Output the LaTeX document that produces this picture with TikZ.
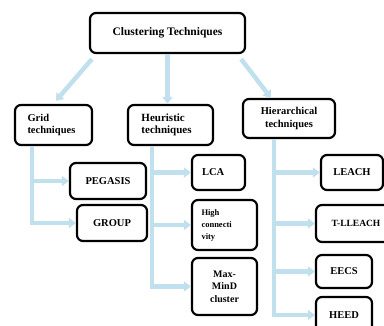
\documentclass[tikz,border=0pt]{standalone}
\usepackage{fontspec}
\setmainfont{Liberation Serif}
\usetikzlibrary{arrows.meta}
\definecolor{flowblue}{RGB}{192,224,238}
\tikzstyle{techbox} = [
    rectangle,
    rounded corners=6pt,
    line width=2.2pt,
    draw=black,
    inner sep=2pt,
    font=\bfseries\fontsize{10.5}{12.5}\selectfont
]
\tikzstyle{flow} = [
    draw=flowblue,
    line width=4.5pt,
    -{Triangle[width=10pt,length=7pt]}
]

\begin{document}
\begin{tikzpicture}[x=1pt, y=-1pt]

\useasboundingbox (0,0) rectangle (384,326);
\clip (0,0) rectangle (384,326);

\node (clust) [techbox, minimum width=155pt, minimum height=40pt,
    font=\bfseries\fontsize{11.5}{13}\selectfont] at (167.5,33)
{Clustering Techniques};

% second level
\node (grid) [techbox, minimum width=77pt, minimum height=40pt,
    text width=52pt, align=left] at (53.5,125)
{Grid\\techniques};

\node (heur) [techbox, minimum width=85pt, minimum height=40pt,
    text width=58pt, align=left, font=\bfseries\fontsize{11}{12.5}\selectfont] at (170.5,125)
{Heuristic\\techniques};

\node (hier) [techbox, minimum width=92pt, minimum height=39pt,
    align=center] at (289,118.5)
{Hierarchical\\techniques};

% grid techniques
\node (pegasis) [techbox, minimum width=76pt, minimum height=36pt] at (108,181) {PEGASIS};
\node (group) [techbox, minimum width=70pt, minimum height=36pt] at (112,223) {GROUP};

% heuristic techniques
\node (lca) [techbox, minimum width=53pt, minimum height=35pt,
    text width=33pt, align=left] at (218.5,172.5) {LCA};
\node (high) [techbox, minimum width=65pt, minimum height=50pt,
    text width=46pt, align=left, font=\bfseries\fontsize{8.5}{12}\selectfont] at (224.5,225)
{High\\connecti\\vity};
\node (maxmin) [techbox, minimum width=65pt, minimum height=57pt,
    align=center, font=\bfseries\fontsize{10}{12.5}\selectfont] at (224.5,286.5)
{Max-\\MinD\\cluster};

% hierarchical techniques
\node (leach) [techbox, minimum width=62pt, minimum height=35pt] at (352,172.5) {LEACH};
\node (tlleach) [techbox, minimum width=80pt, minimum height=37pt,
    font=\bfseries\fontsize{9.5}{12}\selectfont] at (356,223.5) {T-LLEACH};
\node (eecs) [techbox, minimum width=56pt, minimum height=33pt] at (344,271.5) {EECS};
\node (heed) [techbox, minimum width=56pt, minimum height=36pt] at (344,315) {HEED};

\draw [flow] ([xshift=3pt,yshift=-5pt]clust.south west) -- ([xshift=42pt,yshift=3pt]grid.north west);
\draw [flow] (clust.south) -- (clust.south |- heur.north);
\draw [flow] ([xshift=-5pt,yshift=-5pt]clust.south east) -- ([xshift=29pt]hier.north west);

\draw [flow] ([xshift=18pt]grid.south west) |- (pegasis.west);
\draw [flow] ([xshift=18pt]grid.south west) |- (group.west);

\draw [flow] ([xshift=25pt]heur.south west) |- (lca.west);
\draw [flow] ([xshift=25pt]heur.south west) |- (high.west);
\draw [flow] ([xshift=25pt]heur.south west) |- (maxmin.west);

\draw [flow] ([xshift=32pt]hier.south west) |- (leach.west);
\draw [flow] ([xshift=32pt]hier.south west) |- (tlleach.west);
\draw [flow] ([xshift=32pt]hier.south west) |- (eecs.west);
\draw [flow] ([xshift=32pt]hier.south west) |- (heed.west);

\end{tikzpicture}
\end{document}
